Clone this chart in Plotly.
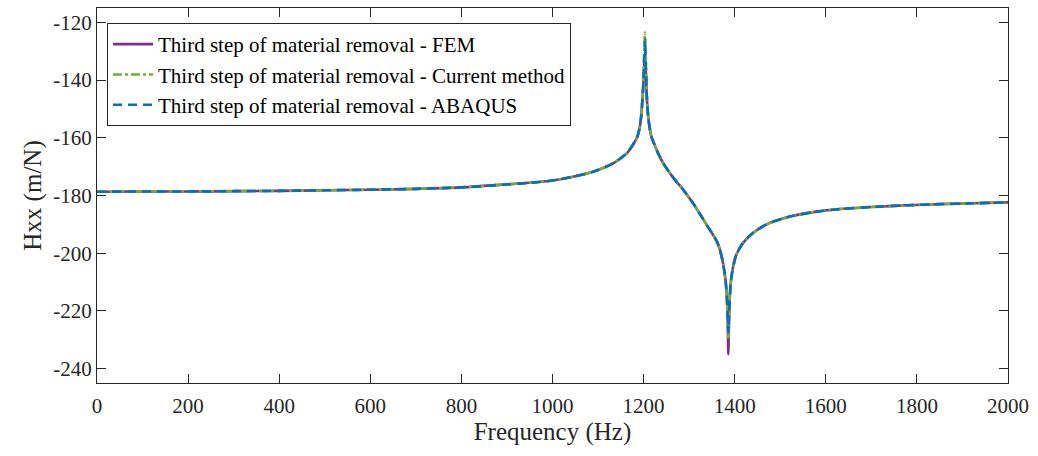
import plotly.graph_objects as go

# Frequency (Hz)
freq = [0, 100, 200, 300, 400, 500, 600, 700, 800, 876, 950, 1000, 1045, 1089, 1133, 1163,
        1175, 1186, 1192, 1195, 1199, 1201, 1203, 1205, 1207, 1211, 1217, 1225, 1232, 1243,
        1265, 1287, 1310, 1330, 1340, 1350, 1361, 1368, 1375, 1380, 1383, 1385, 1386, 1388,
        1390, 1393, 1400, 1405, 1418, 1440, 1470, 1521, 1580, 1631, 1700, 1778, 1850, 1920,
        2000]

# FEM
fem = [-178.7, -178.6, -178.6, -178.5, -178.4, -178.2, -178.0, -177.7, -177.2, -176.4, -175.6,
       -174.8, -173.5, -171.8, -168.9, -165.4, -162.8, -159.7, -156.0, -152.0, -143.0, -136.0,
       -130.0, -137.0, -146.0, -154.0, -159.5, -162.8, -165.4, -168.8, -173.8, -178.0, -183.0,
       -188.0, -190.6, -193.0, -196.0, -199.0, -204.0, -209.5, -216.0, -226.0, -235.0, -221.0,
       -213.0, -208.0, -202.3, -200.0, -196.5, -193.0, -190.0, -187.3, -185.6, -184.7, -184.0,
       -183.4, -183.0, -182.7, -182.4]

# Current method
current = [-178.7, -178.6, -178.6, -178.5, -178.4, -178.2, -178.0, -177.7, -177.2, -176.4, -175.6,
           -174.8, -173.5, -171.8, -168.9, -165.4, -162.8, -159.7, -156.0, -152.0, -142.0, -132.0,
           -123.5, -134.0, -145.0, -154.0, -159.5, -162.8, -165.4, -168.8, -173.8, -178.0, -183.0,
           -188.0, -190.6, -193.0, -196.0, -199.0, -204.0, -209.5, -216.0, -224.0, -230.0, -220.0,
           -213.0, -208.0, -202.3, -200.0, -196.5, -193.0, -190.0, -187.3, -185.6, -184.7, -184.0,
           -183.4, -183.0, -182.7, -182.4]

# ABAQUS
abaqus = [-178.7, -178.6, -178.6, -178.5, -178.4, -178.2, -178.0, -177.7, -177.2, -176.4, -175.6,
          -174.8, -173.5, -171.8, -168.9, -165.4, -162.8, -159.7, -156.0, -152.0, -142.5, -134.0,
          -126.0, -135.0, -145.5, -154.0, -159.5, -162.8, -165.4, -168.8, -173.8, -178.0, -183.0,
          -188.0, -190.6, -193.0, -196.0, -199.0, -204.0, -209.5, -216.0, -223.0, -227.5, -219.5,
          -213.0, -208.0, -202.3, -200.0, -196.5, -193.0, -190.0, -187.3, -185.6, -184.7, -184.0,
          -183.4, -183.0, -182.7, -182.4]

names = ["Third step of material removal - FEM",
         "Third step of material removal - Current method",
         "Third step of material removal - ABAQUS"]

x_ticks = list(range(0, 2001, 200))
y_ticks = list(range(-240, -119, 20))
y_tick_text = ["-240", "-220", "-200", "-180", "-160", "-140", "-120"]

font = "Times New Roman, Liberation Serif, serif"

fig = go.Figure()
fig.add_trace(go.Scatter(x=freq, y=fem, mode="lines", name=names[0],
                         line=dict(color="#7E2F8E", width=2.6, shape="spline", smoothing=0.6)))
fig.add_trace(go.Scatter(x=freq, y=current, mode="lines", name=names[1],
                         line=dict(color="#77AC30", width=2.6, dash="9px,3px,3px,3px",
                                   shape="spline", smoothing=0.6)))
fig.add_trace(go.Scatter(x=freq, y=abaqus, mode="lines", name=names[2],
                         line=dict(color="#0072BD", width=2.6, dash="9px,6px",
                                   shape="spline", smoothing=0.6)))

axis_common = dict(showline=True, mirror="ticks", linecolor="#262626", linewidth=1,
                   ticks="inside", ticklen=9, tickcolor="#262626", showgrid=False,
                   zeroline=False, tickfont=dict(family=font, size=21, color="#262626"))

fig.update_layout(
    width=1038, height=456,
    margin=dict(l=97, r=30, t=8, b=73),
    paper_bgcolor="white", plot_bgcolor="white",
    font=dict(family=font, color="#262626"),
    showlegend=True,
    legend=dict(x=0.011, y=0.96, xanchor="left", yanchor="top",
                bgcolor="white", bordercolor="#262626", borderwidth=1,
                font=dict(family=font, size=21, color="#000000"),
                tracegroupgap=0, itemwidth=40),
    xaxis=dict(range=[0, 2000], tickvals=x_ticks, ticklabelstandoff=4,
               title=dict(text="Frequency (Hz)", font=dict(family=font, size=25, color="#262626"),
                          standoff=4),
               **axis_common),
    yaxis=dict(range=[-245, -115], tickvals=y_ticks, ticktext=y_tick_text,
               title=dict(text="Hxx (m/N)", font=dict(family=font, size=25, color="#262626"),
                          standoff=4),
               **axis_common),
)

fig.write_html("out.html")
